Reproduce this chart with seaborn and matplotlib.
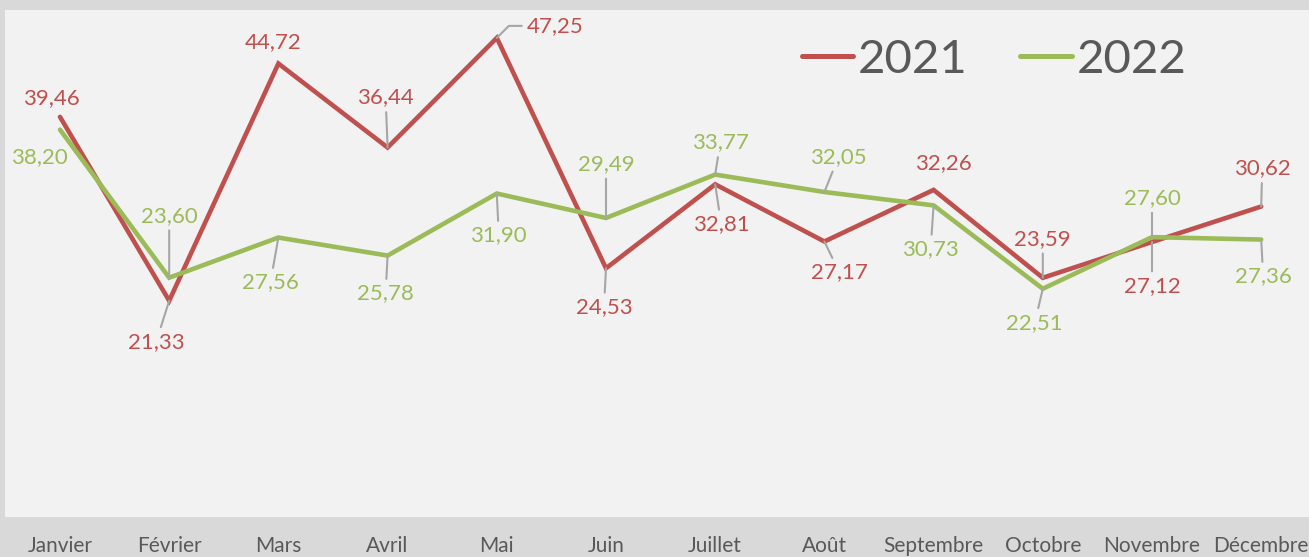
import matplotlib
matplotlib.use("Agg")
import matplotlib.pyplot as plt
import seaborn as sns
import pandas as pd
from matplotlib.lines import Line2D
from matplotlib.ticker import FixedLocator

months = ["Janvier", "Février", "Mars", "Avril", "Mai", "Juin", "Juillet",
          "Août", "Septembre", "Octobre", "Novembre", "Décembre"]
values_2021 = [39.46, 21.33, 44.72, 36.44, 47.25, 24.53, 32.81, 27.17, 32.26, 23.59, 27.12, 30.62]
values_2022 = [38.20, 23.60, 27.56, 25.78, 31.90, 29.49, 33.77, 32.05, 30.73, 22.51, 27.60, 27.36]
years = ["2021", "2022"]

# label placement (pixel offsets from the point) and whether a leader line shows
offsets_2021 = [(-9, 19), (-13, -41), (-5, 21), (-2, 50), (58, 12), (-2, -39),
                (6, -40), (15, -31), (10, 27), (0, 39), (0, -44), (1, 38)]
leaders_2021 = [False, True, False, True, True, True, True, True, False, True, True, True]
offsets_2022 = [(-21, -27), (0, 62), (-8, -45), (-2, -38), (2, -42), (0, 54),
                (5, 32), (14, 35), (-3, -44), (-8, -34), (0, 39), (2, -37)]
leaders_2022 = [False, True, True, True, True, True, True, True, True, True, True, True]

colors = {"2021": "#c0504d", "2022": "#9bbb59"}
text_grey = "#595959"

df = pd.DataFrame({
    "mois": months * 2,
    "valeur": values_2021 + values_2022,
    "annee": [years[0]] * 12 + [years[1]] * 12,
})

sns.set_style("white")
plt.rcParams["font.family"] = ["Lato", "DejaVu Sans"]

W, H = 1309, 557
fig = plt.figure(figsize=(W / 100, H / 100), dpi=100, facecolor="#d9d9d9")
step = 109.2
ax = fig.add_axes([5.4 / W, (H - 517) / H, 12 * step / W, 507 / H])
ax.set_facecolor("#f2f2f2")

sns.lineplot(data=df, x="mois", y="valeur", hue="annee", palette=colors,
             sort=False, linewidth=3.3, legend=False, ax=ax)
for ln in ax.lines:
    ln.set_solid_joinstyle("miter")

ax.set_xlim(-0.5, 11.5)
ax.set_ylim(0, 50)
ax.set_yticks([])
ax.set_xlabel("")
ax.set_ylabel("")
for s in ax.spines.values():
    s.set_visible(False)

ax.set_xticks(range(12))
ax.set_xticklabels(months, fontsize=15, color=text_grey)
ax.tick_params(axis="x", which="major", length=0, pad=14)
ax.xaxis.set_minor_locator(FixedLocator([i - 0.5 for i in range(13)]))
ax.tick_params(axis="x", which="minor", direction="in", length=5, width=1, color="#d9d9d9")

series = [(values_2021, offsets_2021, leaders_2021, colors["2021"]),
          (values_2022, offsets_2022, leaders_2022, colors["2022"])]
for vals, offs, leads, col in series:
    for i, (v, (dx, dy), lead) in enumerate(zip(vals, offs, leads)):
        label = f"{v:.2f}".replace(".", ",")
        arrow = None
        if lead:
            arrow = dict(arrowstyle="-", color="#a6a6a6", lw=1.5, shrinkA=1, shrinkB=0)
            if dx > 40:
                arrow.update(relpos=(0, 0.5), connectionstyle="angle,angleA=0,angleB=45,rad=0")
        ax.annotate(label, xy=(i, v), xytext=(dx, dy), textcoords="offset pixels",
                    ha="center", va="center", fontsize=16, color=col,
                    arrowprops=arrow, annotation_clip=False)

handles = [Line2D([0], [0], color=colors[y], lw=3.6, solid_capstyle="round") for y in years]
leg = fig.legend(handles, years, loc="center", bbox_to_anchor=(994 / W, 1 - 60 / H),
                 ncol=2, frameon=False, fontsize=34, handlelength=1.1,
                 handletextpad=0.1, columnspacing=1.1)
for t in leg.get_texts():
    t.set_color(text_grey)

fig.savefig("out.png", dpi=100, facecolor=fig.get_facecolor())
